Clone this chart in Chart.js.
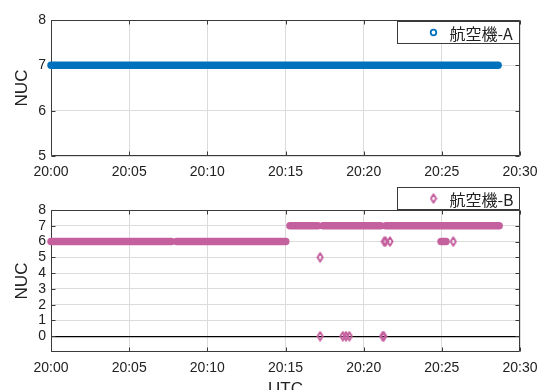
<!DOCTYPE html>
<html>
<head>
<meta charset="utf-8">
<script src="https://cdn.jsdelivr.net/npm/chart.js@4/dist/chart.umd.min.js"></script>
<style>
  html, body { margin: 0; padding: 0; background: #fff; overflow: hidden; width: 540px; height: 390px; }
  canvas { position: absolute; left: 0; }
</style>
</head>
<body>
<canvas id="chartA" width="540" height="185" style="top:0"></canvas>
<canvas id="chartB" width="540" height="215" style="top:185px"></canvas>
<script>
// ---- NUC reports (UTC), stored as continuous runs plus isolated reports ----

// 航空機-A: one continuous run at NUC 7
const runStartA = ['20:00:00'];
const runEndA   = ['20:28:36'];
const runNucA   = [7];

// 航空機-B: continuous runs
const runStartB = ['20:00:00', '20:08:02', '20:15:17', '20:17:24', '20:21:25', '20:24:57'];
const runEndB   = ['20:07:42', '20:15:01', '20:17:04', '20:21:05', '20:28:40', '20:25:16'];
const runNucB   = [6, 6, 7, 7, 7, 6];

// 航空機-B: isolated reports
const pointTimeB = ['20:17:13', '20:17:13', '20:18:40', '20:18:52', '20:19:05',
                    '20:21:13', '20:21:17', '20:21:19', '20:21:24', '20:21:41', '20:25:44'];
const pointNucB  = [5, 0, 0, 0, 0, 0, 0, 6, 6, 6, 6];

// Axis ticks (minutes after 20:00) and their labels
const xTickMinutes = [0, 5, 10, 15, 20, 25, 30];
const xTickLabels  = ['20:00', '20:05', '20:10', '20:15', '20:20', '20:25', '20:30'];
const yTicksA = [5, 6, 7, 8];
const yTicksB = [0, 1, 2, 3, 4, 5, 6, 7, 8];

const COLOR_A = '#0072BD';
const COLOR_B = '#C5609F';
const GRID = '#dcdcdc';
const FRAME = '#3a3a3a';
const tickFont = { family: '"Liberation Sans", Arial, sans-serif', size: 14 };
const titleFont = { family: '"Liberation Sans", Arial, sans-serif', size: 17 };

function toMin(t) {
  const [h, m, s] = t.split(':').map(Number);
  return (h - 20) * 60 + m + s / 60;
}

function runPoints(starts, ends, nucs) {
  const pts = [];
  starts.forEach((s, i) => {
    if (i) pts.push({ x: toMin(s), y: null });   // break between runs
    pts.push({ x: toMin(s), y: nucs[i] }, { x: toMin(ends[i]), y: nucs[i] });
  });
  return pts;
}

function makeDiamond(color) {
  const c = document.createElement('canvas');
  c.width = 8; c.height = 11;
  const g = c.getContext('2d');
  g.strokeStyle = color;
  g.lineWidth = 1.9;
  g.lineJoin = 'round';
  g.beginPath();
  g.moveTo(4, 1.3); g.lineTo(6.6, 5.5); g.lineTo(4, 9.7); g.lineTo(1.4, 5.5);
  g.closePath();
  g.stroke();
  return c;
}
const diamondB = makeDiamond(COLOR_B);

// Frame round the plot with inward tick marks on all four sides
const framePlugin = {
  id: 'frame',
  beforeDatasetsDraw(chart) {
    const { ctx, chartArea: a, scales } = chart;
    const L = Math.round(a.left) + 0.5, R = Math.round(a.right) - 0.5;
    const T = Math.round(a.top) + 0.5, B = Math.round(a.bottom) - 0.5;
    ctx.save();
    ctx.strokeStyle = FRAME;
    ctx.lineWidth = 1;
    ctx.beginPath();
    ctx.rect(L, T, R - L, B - T);
    const len = 4;
    scales.x.ticks.forEach(t => {
      const px = Math.round(scales.x.getPixelForValue(t.value)) + 0.5;
      ctx.moveTo(px, B); ctx.lineTo(px, B - len);
      ctx.moveTo(px, T); ctx.lineTo(px, T + len);
    });
    scales.y.ticks.forEach(t => {
      const py = Math.round(scales.y.getPixelForValue(t.value)) + 0.5;
      ctx.moveTo(L, py); ctx.lineTo(L + len, py);
      ctx.moveTo(R, py); ctx.lineTo(R - len, py);
    });
    ctx.stroke();
    ctx.restore();
  }
};

// Boxed legend in the upper-right corner
const boxLegend = {
  id: 'boxLegend',
  afterDraw(chart, args, opts) {
    const { ctx, chartArea: a } = chart;
    const w = 122, h = 22;
    const x = Math.round(a.right) - w - 1 + 0.5;
    const y = (opts.above ? Math.round(a.top) - h - 1 : Math.round(a.top) + 1) + 0.5;
    ctx.save();
    ctx.fillStyle = '#fff';
    ctx.strokeStyle = FRAME;
    ctx.lineWidth = 1;
    ctx.fillRect(x, y, w, h);
    ctx.strokeRect(x, y, w, h);
    const my = y + h / 2;
    if (opts.marker === 'circle') {
      ctx.strokeStyle = opts.color;
      ctx.lineWidth = 1.8;
      ctx.beginPath();
      ctx.arc(x + 36, my, 2.8, 0, Math.PI * 2);
      ctx.stroke();
    } else {
      ctx.drawImage(opts.image, x + 36 - opts.image.width / 2, my - opts.image.height / 2);
    }
    ctx.fillStyle = '#222';
    ctx.font = '16px "Noto Sans CJK JP", sans-serif';
    ctx.textBaseline = 'middle';
    ctx.textAlign = 'left';
    ctx.fillText(opts.text, x + 52, my + 1);
    ctx.restore();
  }
};

function xScale(height, withTitle) {
  return {
    type: 'linear', min: 0, max: 30,
    afterBuildTicks: s => { s.ticks = xTickMinutes.map(v => ({ value: v })); },
    afterFit: s => { s.height = height; s.paddingLeft = 0; s.paddingRight = 0; },
    ticks: {
      autoSkip: false, maxRotation: 0, padding: 8, color: '#222', font: tickFont,
      callback: v => xTickLabels[xTickMinutes.indexOf(v)]
    },
    grid: { color: GRID, drawTicks: false },
    border: { display: false },
    title: withTitle
      ? { display: true, text: 'UTC', color: '#222', font: titleFont, padding: { top: 0, bottom: 0 } }
      : { display: false }
  };
}

function yScale(min, max, ticks, zeroLine) {
  return {
    min, max,
    afterBuildTicks: s => { s.ticks = ticks.map(v => ({ value: v })); },
    afterFit: s => { s.width = 51; s.paddingTop = 0; s.paddingBottom = 0; },
    ticks: { autoSkip: false, padding: 5, color: '#222', font: tickFont },
    grid: {
      drawTicks: false,
      color: c => (zeroLine && c.tick && c.tick.value === 0) ? '#000' : GRID,
      lineWidth: c => (zeroLine && c.tick && c.tick.value === 0) ? 1.3 : 1
    },
    border: { display: false },
    title: { display: true, text: 'NUC', color: '#222', font: titleFont, padding: { top: 12, bottom: 0 } }
  };
}

Chart.defaults.animation = false;

new Chart(document.getElementById('chartA'), {
  type: 'scatter',
  data: {
    datasets: [{
      label: '航空機-A',
      data: runPoints(runStartA, runEndA, runNucA),
      showLine: true,
      borderColor: COLOR_A,
      borderWidth: 7.5,
      borderCapStyle: 'round',
      borderJoinStyle: 'round',
      pointRadius: 0,
      spanGaps: false,
      clip: false
    }]
  },
  options: {
    responsive: false,
    events: [],
    layout: { padding: { top: 20, right: 20, left: 0, bottom: 0 } },
    plugins: {
      legend: { display: false },
      tooltip: { enabled: false },
      boxLegend: { text: '航空機-A', marker: 'circle', color: COLOR_A, above: false }
    },
    scales: { x: xScale(29, false), y: yScale(5, 8, yTicksA, false) }
  },
  plugins: [framePlugin, boxLegend]
});

new Chart(document.getElementById('chartB'), {
  type: 'scatter',
  data: {
    datasets: [{
      label: '航空機-B',
      data: runPoints(runStartB, runEndB, runNucB),
      showLine: true,
      borderColor: COLOR_B,
      borderWidth: 7.5,
      borderCapStyle: 'round',
      borderJoinStyle: 'round',
      pointRadius: 0,
      spanGaps: false,
      clip: false
    }, {
      label: '航空機-B',
      data: pointTimeB.map((t, i) => ({ x: toMin(t), y: pointNucB[i] })),
      pointStyle: diamondB,
      pointRadius: 4,
      clip: false
    }]
  },
  options: {
    responsive: false,
    events: [],
    layout: { padding: { top: 25, right: 20, left: 0, bottom: 0 } },
    plugins: {
      legend: { display: false },
      tooltip: { enabled: false },
      boxLegend: { text: '航空機-B', marker: 'diamond', image: diamondB, above: true }
    },
    scales: { x: xScale(48, true), y: yScale(-1, 8, yTicksB, true) }
  },
  plugins: [framePlugin, boxLegend]
});
</script>
</body>
</html>
